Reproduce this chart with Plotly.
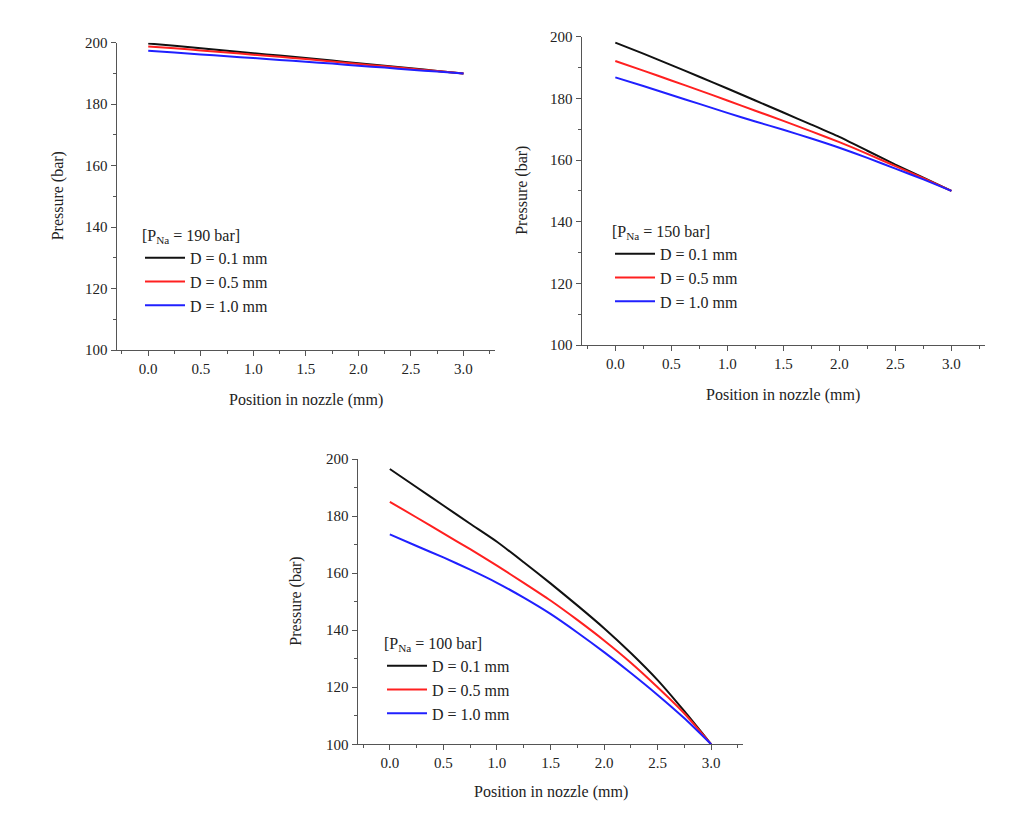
import plotly.graph_objects as go

# ---- data ----
position_mm = [0.0, 0.25, 0.5, 0.75, 1.0, 1.25, 1.5, 1.75, 2.0, 2.25, 2.5, 2.75, 3.0]
series_names = ["D = 0.1 mm", "D = 0.5 mm", "D = 1.0 mm"]
series_colors = ["#111111", "#ff2020", "#2020ff"]

# P_Na = 190 bar
p190_d01 = [199.7, 199.0, 198.2, 197.4, 196.6, 195.8, 195.0, 194.2, 193.3, 192.5, 191.7, 190.8, 190.0]
p190_d05 = [198.8, 198.2, 197.5, 196.8, 196.1, 195.4, 194.7, 193.9, 193.1, 192.3, 191.5, 190.8, 190.0]
p190_d10 = [197.4, 196.8, 196.2, 195.6, 195.0, 194.4, 193.8, 193.2, 192.5, 191.9, 191.2, 190.6, 190.0]

# P_Na = 150 bar
p150_d01 = [198.1, 194.5, 190.8, 187.0, 183.2, 179.3, 175.4, 171.5, 167.5, 163.0, 158.5, 154.3, 150.0]
p150_d05 = [192.1, 189.0, 185.8, 182.6, 179.3, 176.0, 172.7, 169.3, 165.8, 162.0, 158.0, 154.1, 150.0]
p150_d10 = [186.8, 184.0, 181.1, 178.2, 175.3, 172.5, 169.8, 167.0, 164.0, 160.7, 157.2, 153.7, 150.0]

# P_Na = 100 bar
p100_d01 = [196.5, 190.1, 183.7, 177.3, 171.0, 163.8, 156.4, 148.7, 140.7, 132.0, 122.5, 111.6, 100.0]
p100_d05 = [185.0, 179.5, 173.9, 168.4, 162.6, 156.6, 150.4, 143.6, 136.4, 128.6, 120.0, 110.8, 100.0]
p100_d10 = [173.6, 169.5, 165.5, 161.2, 156.6, 151.4, 145.7, 139.2, 132.3, 125.0, 117.3, 109.1, 100.0]

x_tick_vals = [0.0, 0.5, 1.0, 1.5, 2.0, 2.5, 3.0]
x_tick_text = ["0.0", "0.5", "1.0", "1.5", "2.0", "2.5", "3.0"]
y_tick_vals = [100, 120, 140, 160, 180, 200]
x_title = "Position in nozzle (mm)"
y_title = "Pressure (bar)"

panels = [
    ("190", [p190_d01, p190_d05, p190_d10]),
    ("150", [p150_d01, p150_d05, p150_d10]),
    ("100", [p100_d01, p100_d05, p100_d10]),
]

W, H = 1021, 822
FONT = "Liberation Serif, Times New Roman, serif"
TXT = "#222222"
AX = "#555555"

# panel geometry in pixels: (left, right, top, bottom)
geom = [
    (116.7, 495.0, 42.7, 350.0),
    (581.7, 985.0, 36.7, 345.0),
    (357.7, 743.3, 459.0, 744.3),
]
# axis-title centres in pixels: (y-title x, x-title y)
title_pos = [(58, 400), (522, 395), (296, 792)]
legend_pos = [(140, 220), (610, 216), (382, 628)]

fig = go.Figure()
axis_ids = ["", "2", "3"]
legend_ids = ["legend", "legend2", "legend3"]
annotations = []

for i, (pna, ys) in enumerate(panels):
    aid = axis_ids[i]
    for name, color, yv in zip(series_names, series_colors, ys):
        fig.add_trace(go.Scatter(
            x=position_mm, y=yv, mode="lines", name=name,
            line=dict(color=color, width=2, shape="spline", smoothing=0.6),
            xaxis="x" + aid, yaxis="y" + aid,
            legend=legend_ids[i],
        ))
    l, r, t, b = geom[i]
    xa = dict(
        domain=[l / W, r / W], range=[-0.3, 3.3], anchor="y" + aid,
        tickmode="array", tickvals=x_tick_vals, ticktext=x_tick_text,
        ticks="outside", ticklen=5, tickcolor=AX, showline=True, linecolor=AX,
        linewidth=1.2, showgrid=False, zeroline=False, automargin=False,
        minor=dict(ticks="outside", ticklen=3, dtick=0.25, tick0=0, tickcolor=AX, showgrid=False),
        tickfont=dict(family=FONT, size=15, color=TXT),
    )
    ya = dict(
        domain=[1 - b / H, 1 - t / H], range=[100, 200], anchor="x" + aid,
        tickmode="array", tickvals=y_tick_vals,
        ticks="outside", ticklen=5, tickcolor=AX, showline=True, linecolor=AX,
        linewidth=1.2, showgrid=False, zeroline=False, automargin=False,
        minor=dict(ticks="outside", ticklen=3, dtick=10, tick0=100, tickcolor=AX, showgrid=False),
        tickfont=dict(family=FONT, size=15, color=TXT),
    )
    fig.update_layout(**{"xaxis" + aid: xa, "yaxis" + aid: ya})
    ytx, xty = title_pos[i]
    annotations.append(dict(
        text=x_title, xref="paper", yref="paper", x=(l + r) / 2 / W, y=1 - xty / H,
        xanchor="center", yanchor="middle", showarrow=False,
        font=dict(family=FONT, size=16, color=TXT),
    ))
    annotations.append(dict(
        text=y_title, xref="paper", yref="paper", x=ytx / W, y=1 - (t + b) / 2 / H,
        xanchor="center", yanchor="middle", showarrow=False, textangle=-90,
        font=dict(family=FONT, size=16, color=TXT),
    ))
    lx, ly = legend_pos[i]
    fig.update_layout(**{legend_ids[i]: dict(
        x=lx / W, y=1 - ly / H, xanchor="left", yanchor="top",
        bgcolor="rgba(0,0,0,0)", borderwidth=0, itemwidth=40,
        font=dict(family=FONT, size=16, color=TXT),
        title=dict(text="[P<sub>Na</sub> = " + pna + " bar]", font=dict(family=FONT, size=16, color=TXT)),
        tracegroupgap=0,
    )})

fig.update_layout(
    width=W, height=H, autosize=False,
    margin=dict(l=0, r=0, t=0, b=0, autoexpand=False),
    paper_bgcolor="white", plot_bgcolor="white",
    font=dict(family=FONT, size=15, color=TXT),
    showlegend=True,
    annotations=annotations,
)

fig.write_html(
    "out.html",
    config={"displayModeBar": False},
    post_script="document.body.style.margin='0';document.body.style.padding='0';",
)
